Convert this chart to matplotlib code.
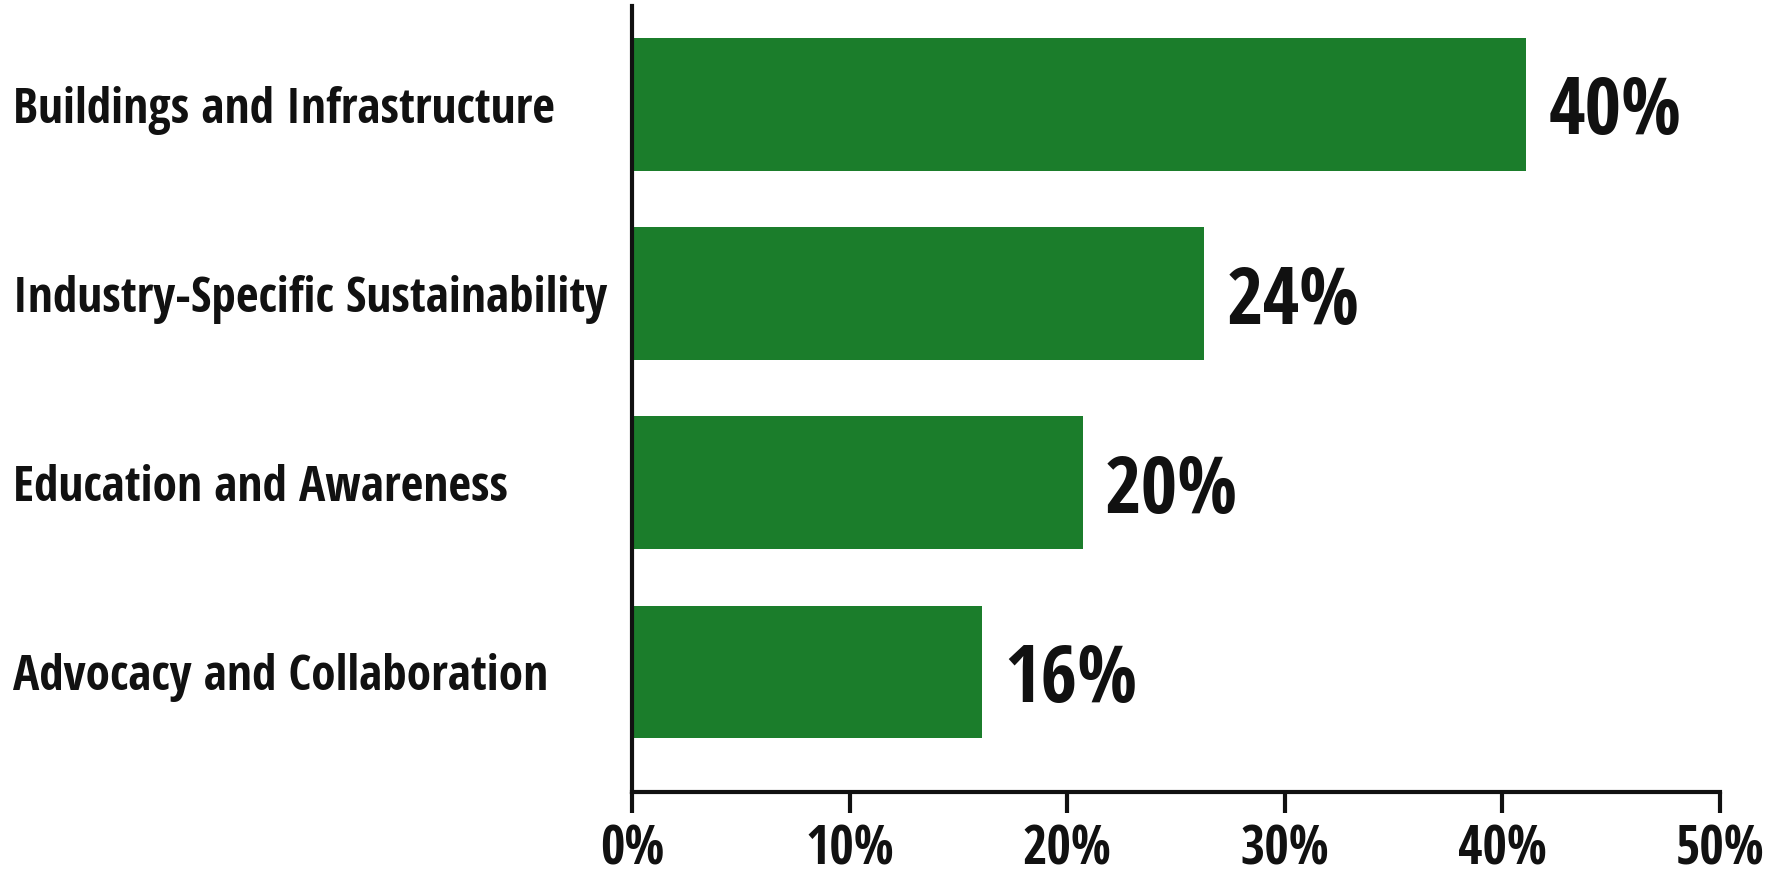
import matplotlib
matplotlib.use("Agg")
import matplotlib.pyplot as plt

categories = [
    "Buildings and Infrastructure",
    "Industry-Specific Sustainability",
    "Education and Awareness",
    "Advocacy and Collaboration",
]
# bar lengths as drawn in the picture (percent)
bar_values = [41.1, 26.3, 20.7, 16.1]
# printed value labels
value_labels = ["40%", "24%", "20%", "16%"]
x_ticks = [0, 10, 20, 30, 40, 50]
x_tick_labels = ["0%", "10%", "20%", "30%", "40%", "50%"]

FONT = ["Open Sans Condensed", "Liberation Sans Narrow", "DejaVu Sans"]
GREEN = "#1b7d2b"
INK = "#111111"


def main():
    plt.rcParams["font.family"] = FONT
    plt.rcParams["font.weight"] = "bold"

    fig = plt.figure(figsize=(17.68, 8.76), dpi=100)
    ax = fig.add_axes([0.3575, 0.0959, 0.6154, 0.8973])

    y_pos = list(range(len(categories)))[::-1]
    ax.barh(y_pos, bar_values, height=0.70, color=GREEN, zorder=2)

    for y, v, lab in zip(y_pos, bar_values, value_labels):
        ax.annotate(lab, (v, y), xytext=(16, 0), textcoords="offset points",
                    va="center_baseline", ha="left", fontsize=57,
                    fontweight="bold", color=INK)

    ax.set_xlim(0, 50)
    ax.set_ylim(-0.635, 3.52)

    ax.set_xticks(x_ticks, x_tick_labels)
    ax.set_yticks(y_pos, categories)

    for side in ["top", "right"]:
        ax.spines[side].set_visible(False)
    for side in ["left", "bottom"]:
        ax.spines[side].set_linewidth(3)
        ax.spines[side].set_color(INK)

    ax.tick_params(axis="x", length=15, width=3, color=INK, pad=8,
                   labelsize=38, labelcolor=INK)
    ax.tick_params(axis="y", length=0, pad=446, labelsize=35.5, labelcolor=INK)
    for lab in ax.get_yticklabels():
        lab.set_ha("left")
        lab.set_va("center_baseline")
        lab.set_fontweight("bold")
    for lab in ax.get_xticklabels():
        lab.set_fontweight("bold")

    fig.savefig("out.png", dpi=100, facecolor="white")


if __name__ == "__main__":
    main()
